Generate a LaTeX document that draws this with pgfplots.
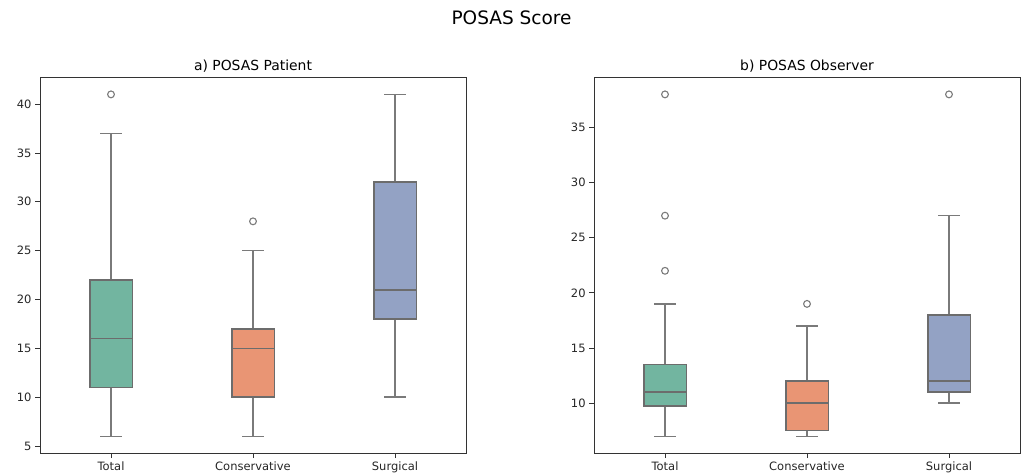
\documentclass[border=0pt]{standalone}
\usepackage{fontspec}
\setmainfont{DejaVu Sans}
\usepackage{pgfplots}
\pgfplotsset{compat=1.18}
\definecolor{cA}{HTML}{72B5A0}
\definecolor{cB}{HTML}{E99574}
\definecolor{cC}{HTML}{93A2C4}
\definecolor{edge}{HTML}{6C6C6C}
\definecolor{whisk}{HTML}{7A7A7A}
\definecolor{frame}{HTML}{333333}
\pgfplotsset{
  posas/.style={
    scale only axis, width=426pt, height=376pt, anchor=south west,
    xmin=-0.5, xmax=2.5,
    xtick={0,1,2}, xticklabels={Total,Conservative,Surgical},
    tick align=outside, major tick length=4.9pt,
    xtick pos=bottom, ytick pos=left,
    tick style={frame, line width=0.9pt},
    axis line style={frame, line width=1pt},
    /pgf/number format/assume math mode=true,
    tick label style={font=\fontsize{11.5}{13}\selectfont, text=black!85},
    title style={font=\fontsize{13.9}{16}\selectfont, yshift=-5pt},
    unbounded coords=jump,
  },
  wh/.style={draw=whisk, line width=1.3pt, mark=none},
  md/.style={draw=edge, line width=1.6pt, mark=none},
  bx/.style={draw=edge, line width=1.6pt, fill=#1, mark=none},
  out/.style={only marks, mark=o, mark size=3.4pt, mark options={draw=whisk, fill=white, line width=1.1pt}},
}
\begin{document}
\begin{tikzpicture}
\useasboundingbox (0,0) rectangle (1023pt,473pt);
\node[anchor=base, font=\fontsize{18.5}{21}\selectfont] at (511.5pt,448pt) {POSAS Score};
% ---------------- a) POSAS Patient ----------------
\begin{axis}[posas, at={(40pt,19.7pt)}, ymin=4.25, ymax=42.75, ytick={5,10,...,40},
  title={a) POSAS Patient}]
% Total: whiskers 6-37, box 11-22, median 16, outlier 41
\addplot[wh] coordinates {(0,6) (0,11) (0,nan) (-0.075,6) (0.075,6) (0,nan) (0,22) (0,37) (0,nan) (-0.075,37) (0.075,37)};
\addplot[bx=cA] coordinates {(-0.15,11) (0.15,11) (0.15,22) (-0.15,22)} --cycle;
\addplot[md] coordinates {(-0.15,16) (0.15,16)};
\addplot[out] coordinates {(0,41)};
% Conservative: whiskers 6-25, box 10-17, median 15, outlier 28
\addplot[wh] coordinates {(1,6) (1,10) (1,nan) (0.925,6) (1.075,6) (1,nan) (1,17) (1,25) (1,nan) (0.925,25) (1.075,25)};
\addplot[bx=cB] coordinates {(0.85,10) (1.15,10) (1.15,17) (0.85,17)} --cycle;
\addplot[md] coordinates {(0.85,15) (1.15,15)};
\addplot[out] coordinates {(1,28)};
% Surgical: whiskers 10-41, box 18-32, median 21
\addplot[wh] coordinates {(2,10) (2,18) (2,nan) (1.925,10) (2.075,10) (2,nan) (2,32) (2,41) (2,nan) (1.925,41) (2.075,41)};
\addplot[bx=cC] coordinates {(1.85,18) (2.15,18) (2.15,32) (1.85,32)} --cycle;
\addplot[md] coordinates {(1.85,21) (2.15,21)};
\end{axis}
% ---------------- b) POSAS Observer ----------------
\begin{axis}[posas, at={(594pt,19.7pt)}, ymin=5.45, ymax=39.55, ytick={10,15,...,35},
  title={b) POSAS Observer}]
% Total: whiskers 7-19, box 9.75-13.5, median 11, outliers 22 27 38
\addplot[wh] coordinates {(0,7) (0,9.75) (0,nan) (-0.075,7) (0.075,7) (0,nan) (0,13.5) (0,19) (0,nan) (-0.075,19) (0.075,19)};
\addplot[bx=cA] coordinates {(-0.15,9.75) (0.15,9.75) (0.15,13.5) (-0.15,13.5)} --cycle;
\addplot[md] coordinates {(-0.15,11) (0.15,11)};
\addplot[out] coordinates {(0,22) (0,27) (0,38)};
% Conservative: whiskers 7-17, box 7.5-12, median 10, outlier 19
\addplot[wh] coordinates {(1,7) (1,7.5) (1,nan) (0.925,7) (1.075,7) (1,nan) (1,12) (1,17) (1,nan) (0.925,17) (1.075,17)};
\addplot[bx=cB] coordinates {(0.85,7.5) (1.15,7.5) (1.15,12) (0.85,12)} --cycle;
\addplot[md] coordinates {(0.85,10) (1.15,10)};
\addplot[out] coordinates {(1,19)};
% Surgical: whiskers 10-27, box 11-18, median 12, outlier 38
\addplot[wh] coordinates {(2,10) (2,11) (2,nan) (1.925,10) (2.075,10) (2,nan) (2,18) (2,27) (2,nan) (1.925,27) (2.075,27)};
\addplot[bx=cC] coordinates {(1.85,11) (2.15,11) (2.15,18) (1.85,18)} --cycle;
\addplot[md] coordinates {(1.85,12) (2.15,12)};
\addplot[out] coordinates {(2,38)};
\end{axis}
\end{tikzpicture}
\end{document}
